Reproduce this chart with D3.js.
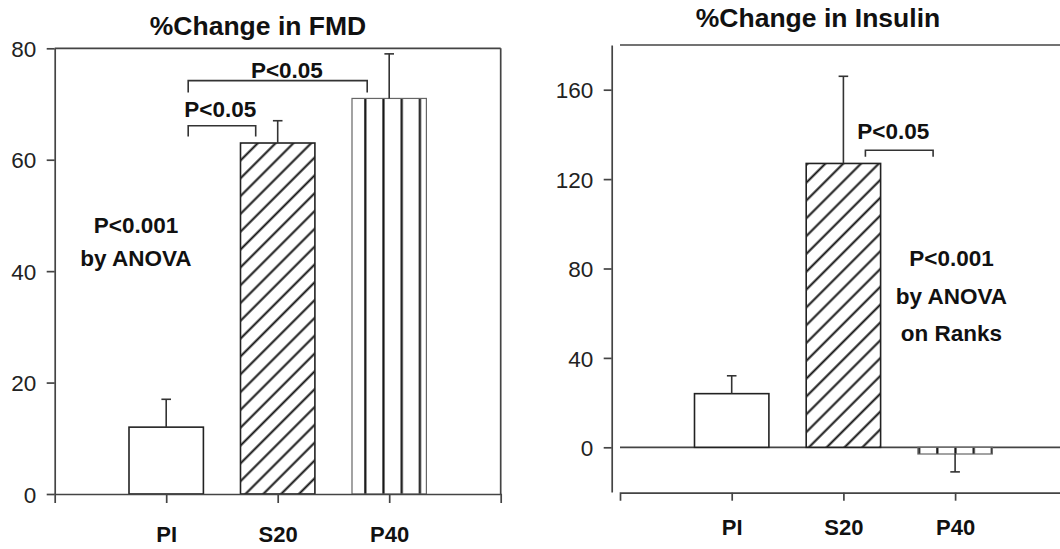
<!DOCTYPE html>
<html>
<head>
<meta charset="utf-8">
<script src="https://cdn.jsdelivr.net/npm/d3@7"></script>
<style>
  body { margin: 0; background: #fff; }
  svg { display: block; font-family: "Liberation Sans", Arial, sans-serif; }
</style>
</head>
<body>
<svg id="chart" width="1060" height="549"></svg>
<script>
// data
const groups = ["PI", "S20", "P40"]

const fmdMeans = [12, 63, 71]
const fmdErrors = [5, 4, 8]
const fmdTicks = [0, 20, 40, 60, 80]
const fmdBrackets = [
  { from: "PI", to: "S20", label: "P<0.05" },
  { from: "PI", to: "P40", label: "P<0.05" },
]
const fmdNote = ["P<0.001", "by ANOVA"]

const insulinMeans = [24, 127, -3]
const insulinErrors = [8, 39, 8]
const insulinTicks = [0, 40, 80, 120, 160]
const insulinBrackets = [{ from: "S20", to: "P40", label: "P<0.05" }]
const insulinNote = ["P<0.001", "by ANOVA", "on Ranks"]

const fills = ["#fff", "url(#hatch)", null] // P40 fill set per panel

const svg = d3.select("#chart")
const defs = svg.append("defs")

// diagonal hatch for S20
const hatch = defs
  .append("pattern")
  .attr("id", "hatch")
  .attr("patternUnits", "userSpaceOnUse")
  .attr("width", 10)
  .attr("height", 12.6)
  .attr("patternTransform", "rotate(-45)")
hatch.append("rect").attr("width", 10).attr("height", 12.6).attr("fill", "#fff")
hatch
  .append("line")
  .attr("x1", 0).attr("x2", 10)
  .attr("y1", 6.3).attr("y2", 6.3)
  .attr("stroke", "#111")
  .attr("stroke-width", 2)

function stripes(id, x0) {
  const p = defs
    .append("pattern")
    .attr("id", id)
    .attr("patternUnits", "userSpaceOnUse")
    .attr("x", x0 - 9)
    .attr("width", 18.2)
    .attr("height", 10)
  p.append("rect").attr("width", 18.2).attr("height", 10).attr("fill", "#fff")
  p.append("line")
    .attr("x1", 9).attr("x2", 9)
    .attr("y1", 0).attr("y2", 10)
    .attr("stroke", "#111")
    .attr("stroke-width", 2.2)
}

function drawPanel(cfg) {
  const g = svg.append("g")

  const x = d3.scalePoint().domain(groups).range(cfg.xRange).padding(1)
  const y = d3.scaleLinear().domain(cfg.yDomain).range(cfg.yRange)
  const bw = 74.4

  stripes(cfg.stripeId, x("P40") - bw / 2 + cfg.stripeOffset)

  // title
  g.append("text")
    .attr("x", cfg.titleX)
    .attr("y", cfg.titleY)
    .attr("text-anchor", "middle")
    .attr("font-size", 26.5)
    .attr("font-weight", "bold")
    .attr("fill", "#111")
    .text(cfg.title)

  // frame / reference lines
  cfg.hLines.forEach((v) => {
    g.append("line")
      .attr("x1", cfg.hLineStart).attr("x2", cfg.xRange[1])
      .attr("y1", y(v)).attr("y2", y(v))
      .attr("stroke", "#444")
      .attr("stroke-width", 1.7)
  })
  if (cfg.rightFrame) {
    g.append("line")
      .attr("x1", cfg.xRange[1]).attr("x2", cfg.xRange[1])
      .attr("y1", cfg.yRange[0]).attr("y2", cfg.yRange[1])
      .attr("stroke", "#444")
      .attr("stroke-width", 1.7)
  }

  // bars
  g.selectAll("rect.bar")
    .data(cfg.means)
    .join("rect")
    .attr("class", "bar")
    .attr("x", (d, i) => x(groups[i]) - bw / 2)
    .attr("y", (d) => y(Math.max(0, d)))
    .attr("width", bw)
    .attr("height", (d) => Math.abs(y(d) - y(0)))
    .attr("fill", (d, i) => fills[i] || `url(#${cfg.stripeId})`)
    .attr("stroke", (d, i) => (i == 2 ? "#666" : "#222"))
    .attr("stroke-width", (d, i) => (i == 2 ? 1.2 : 1.6))

  // error bars
  cfg.means.forEach((m, i) => {
    const cx = x(groups[i])
    const end = m + Math.sign(m) * cfg.errors[i]
    g.append("line")
      .attr("x1", cx).attr("x2", cx)
      .attr("y1", y(m)).attr("y2", y(end))
      .attr("stroke", "#333")
      .attr("stroke-width", 1.6)
    g.append("line")
      .attr("x1", cx - 4.8).attr("x2", cx + 4.8)
      .attr("y1", y(end)).attr("y2", y(end))
      .attr("stroke", "#333")
      .attr("stroke-width", 1.6)
  })

  // axes
  const yAxis = g
    .append("g")
    .attr("transform", `translate(${cfg.yAxisX},0)`)
    .call(d3.axisLeft(y).tickValues(cfg.ticks).tickSize(8).tickSizeOuter(0).tickPadding(10.5))
  yAxis.selectAll("text")
    .attr("font-size", 22.5)
    .attr("fill", "#222")
    .attr("font-family", "Liberation Sans, Arial, sans-serif")
    .attr("dy", "0.36em")

  const xAxis = g
    .append("g")
    .attr("transform", `translate(0,${cfg.xAxisY})`)
    .call(d3.axisBottom(x).tickSize(cfg.xTick).tickSizeOuter(cfg.xTick).tickPadding(cfg.xPad))
  xAxis.selectAll("text")
    .attr("font-size", 22)
    .attr("font-weight", "bold")
    .attr("fill", "#111")
    .attr("font-family", "Liberation Sans, Arial, sans-serif")

  g.selectAll(".domain, .tick line").attr("stroke", "#444").attr("stroke-width", 1.7)

  // significance brackets
  cfg.brackets.forEach((b, i) => {
    const lay = cfg.bracketLayout[i]
    const x1 = x(b.from) + 22
    const x2 = x(b.to) - 22
    const by = y(lay.level)
    g.append("path")
      .attr("d", `M${x1},${by + lay.leg}V${by}H${x2}V${by + lay.leg}`)
      .attr("fill", "none")
      .attr("stroke", "#333")
      .attr("stroke-width", 1.6)
    g.append("text")
      .attr("x", (x1 + x2) / 2 + lay.dx)
      .attr("y", by - lay.gap)
      .attr("text-anchor", "middle")
      .attr("font-size", 22.5)
      .attr("font-weight", "bold")
      .attr("fill", "#111")
      .text(b.label)
  })

  // ANOVA note
  g.selectAll("text.note")
    .data(cfg.note)
    .join("text")
    .attr("class", "note")
    .attr("x", cfg.noteX)
    .attr("y", (d, i) => cfg.noteY + i * cfg.noteStep)
    .attr("text-anchor", "middle")
    .attr("font-size", 22.5)
    .attr("font-weight", "bold")
    .attr("fill", "#111")
    .text((d) => d)
}

drawPanel({
  title: "%Change in FMD",
  titleX: 258,
  titleY: 35,
  means: fmdMeans,
  errors: fmdErrors,
  ticks: fmdTicks,
  brackets: fmdBrackets,
  bracketLayout: [
    { level: 66.1, leg: 10.7, gap: 8.7, dx: -1.6 },
    { level: 74.2, leg: 12, gap: 3, dx: 9.2 },
  ],
  note: fmdNote,
  noteX: 136,
  noteY: 233.3,
  noteStep: 32.7,
  xRange: [54.7, 500.7],
  yDomain: [0, 80],
  yRange: [494, 48.3],
  yAxisX: 54.7,
  xAxisY: 494,
  xTick: 9,
  xPad: 23.7,
  hLines: [80],
  hLineStart: 54.7,
  rightFrame: true,
  stripeId: "stripesA",
  stripeOffset: 13.3,
})

drawPanel({
  title: "%Change in Insulin",
  titleX: 818,
  titleY: 26.7,
  means: insulinMeans,
  errors: insulinErrors,
  ticks: insulinTicks,
  brackets: insulinBrackets,
  bracketLayout: [{ level: 132.9, leg: 6.6, gap: 11.4, dx: -6 }],
  note: insulinNote,
  noteX: 951.5,
  noteY: 266,
  noteStep: 37.5,
  xRange: [620, 1066.8],
  yDomain: [-20, 180],
  yRange: [492, 45],
  yAxisX: 611.7,
  xAxisY: 492.7,
  xTick: 8,
  xPad: 18.7,
  hLines: [180, 0],
  hLineStart: 620,
  rightFrame: false,
  stripeId: "stripesB",
  stripeOffset: 19.4,
})
</script>
</body>
</html>
